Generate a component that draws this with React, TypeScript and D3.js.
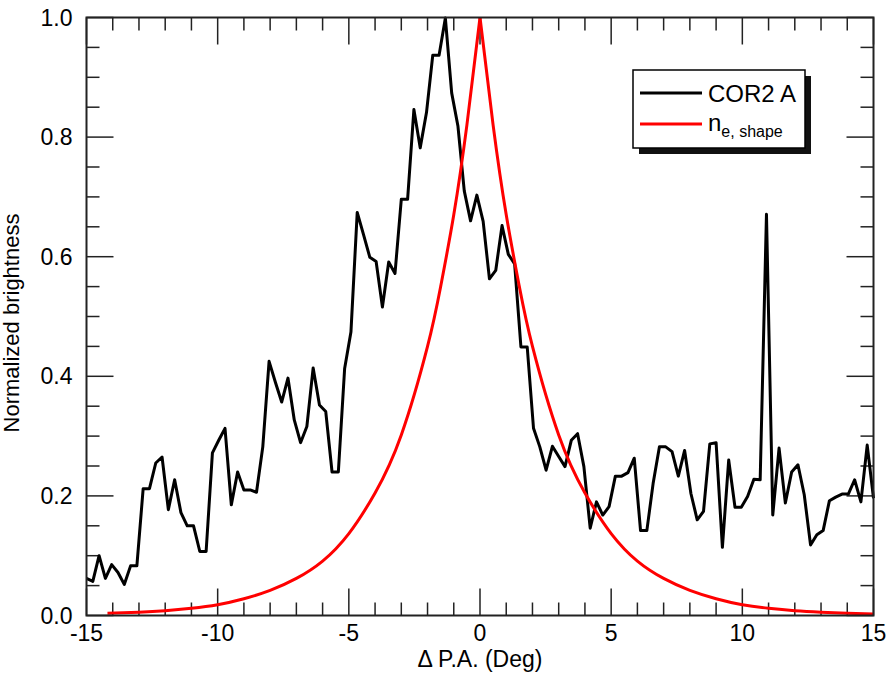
import React, { useEffect, useRef } from "react";
import * as d3 from "d3";

// COR2 A brightness profile, sampled every 0.24 deg from -15 to 15
const paStart = -15;
const paStep = 0.24;
const cor2a = [
  0.062, 0.057, 0.1, 0.062, 0.085, 0.072, 0.052, 0.083, 0.083, 0.212,
  0.212, 0.255, 0.265, 0.177, 0.227, 0.172, 0.15, 0.15, 0.107, 0.107,
  0.272, 0.293, 0.313, 0.185, 0.24, 0.21, 0.21, 0.206, 0.282, 0.425,
  0.39, 0.357, 0.397, 0.327, 0.289, 0.316, 0.414, 0.352, 0.341, 0.24,
  0.24, 0.413, 0.474, 0.674, 0.637, 0.599, 0.592, 0.516, 0.591, 0.572,
  0.696, 0.696, 0.846, 0.782, 0.841, 0.937, 0.937, 0.999, 0.874, 0.818,
  0.71, 0.66, 0.703, 0.659, 0.563, 0.577, 0.652, 0.604, 0.588, 0.449,
  0.449, 0.313, 0.282, 0.243, 0.283, 0.266, 0.249, 0.293, 0.304, 0.249,
  0.146, 0.19, 0.168, 0.182, 0.233, 0.233, 0.239, 0.263, 0.142, 0.142,
  0.221, 0.282, 0.282, 0.274, 0.233, 0.276, 0.204, 0.16, 0.174, 0.287,
  0.289, 0.114, 0.26, 0.181, 0.181, 0.199, 0.228, 0.227, 0.671, 0.168,
  0.28, 0.188, 0.24, 0.252, 0.202, 0.118, 0.135, 0.142, 0.192, 0.198,
  0.203, 0.203, 0.227, 0.19, 0.285, 0.196,
];

// density shape profile (left and right of the peak)
const shapeLeftPA = [-14.2, -13, -12, -11, -10, -9, -8, -7, -6, -5, -4, -3, -2, -1.5, -1, -0.5, 0];
const shapeLeft = [0.0037, 0.0055, 0.008, 0.012, 0.018, 0.028, 0.042, 0.062, 0.091, 0.137, 0.205, 0.302, 0.45, 0.55, 0.67, 0.82, 1];
const shapeRightPA = [0, 0.5, 1, 1.5, 2, 3, 4, 5, 6, 7, 8, 9, 10, 11, 12, 13, 14, 15];
const shapeRight = [1, 0.82, 0.67, 0.55, 0.45, 0.302, 0.205, 0.137, 0.091, 0.062, 0.042, 0.028, 0.018, 0.012, 0.008, 0.0055, 0.0037, 0.0025];

const xMajor = [-15, -10, -5, 0, 5, 10, 15];
const yMajor = [0, 0.2, 0.4, 0.6, 0.8, 1.0];

const FONT = "'Liberation Sans', Arial, Helvetica, sans-serif";

function ProfileChart() {
  const ref = useRef<SVGSVGElement>(null);

  useEffect(() => {
    drawChart();
  }, []);

  function drawChart() {
    const svg = d3.select(ref.current);
    svg.selectAll("*").remove();

    const left = 86.5, right = 873.5, top = 17.5, bottom = 615.5;

    const xScale = d3.scaleLinear().domain([-15, 15]).range([left, right]);
    const yScale = d3.scaleLinear().domain([0, 1]).range([bottom, top]);

    const axisColor = "#222";
    const g = svg.append("g");

    // ticks on all four sides, pointing inward
    const xMinor = d3.range(-15, 16, 1);
    const yMinor = d3.range(0, 1.0001, 0.05);
    const tickLen = (major: boolean) => (major ? 27 : 13);

    xMinor.forEach((v) => {
      const major = v % 5 === 0;
      const x = xScale(v);
      g.append("line").attr("x1", x).attr("x2", x)
        .attr("y1", bottom).attr("y2", bottom - tickLen(major))
        .attr("stroke", axisColor).attr("stroke-width", 1.5);
      g.append("line").attr("x1", x).attr("x2", x)
        .attr("y1", top).attr("y2", top + tickLen(major))
        .attr("stroke", axisColor).attr("stroke-width", 1.5);
    });
    yMinor.forEach((v, i) => {
      const major = i % 4 === 0;
      const y = yScale(v);
      g.append("line").attr("x1", left).attr("x2", left + tickLen(major))
        .attr("y1", y).attr("y2", y)
        .attr("stroke", axisColor).attr("stroke-width", 1.5);
      g.append("line").attr("x1", right).attr("x2", right - tickLen(major))
        .attr("y1", y).attr("y2", y)
        .attr("stroke", axisColor).attr("stroke-width", 1.5);
    });

    // tick labels (plain hyphen for negatives)
    g.selectAll(".xlab")
      .data(xMajor)
      .join("text")
      .attr("x", (d) => xScale(d))
      .attr("y", 641)
      .attr("text-anchor", "middle")
      .attr("font-family", FONT)
      .attr("font-size", 23)
      .text((d) => String(d));
    g.selectAll(".ylab")
      .data(yMajor)
      .join("text")
      .attr("x", left - 14)
      .attr("y", (d) => yScale(d) + 8)
      .attr("text-anchor", "end")
      .attr("font-family", FONT)
      .attr("font-size", 23)
      .text((d) => d.toFixed(1));

    // axis titles
    g.append("text")
      .attr("x", (left + right) / 2)
      .attr("y", 667)
      .attr("text-anchor", "middle")
      .attr("font-family", FONT)
      .attr("font-size", 23)
      .text("\u0394 P.A. (Deg)");
    g.append("text")
      .attr("transform", `translate(19,323) rotate(-90)`)
      .attr("text-anchor", "middle")
      .attr("font-family", FONT)
      .attr("font-size", 22)
      .text("Normalized brightness");

    // data lines
    const obsLine = d3
      .line<number>()
      .x((d, i) => xScale(paStart + i * paStep))
      .y((d) => yScale(d));
    g.append("path")
      .attr("d", obsLine(cor2a))
      .attr("fill", "none")
      .attr("stroke", "black")
      .attr("stroke-width", 3)
      .attr("stroke-linejoin", "round");

    const shapeLine = (pa: number[]) =>
      d3
        .line<number>()
        .x((d, i) => xScale(pa[i]))
        .y((d) => yScale(d))
        .curve(d3.curveNatural);
    [
      [shapeLeftPA, shapeLeft],
      [shapeRightPA, shapeRight],
    ].forEach(([pa, vals]) => {
      g.append("path")
        .attr("d", shapeLine(pa)(vals))
        .attr("fill", "none")
        .attr("stroke", "#f00")
        .attr("stroke-width", 3);
    });

    // frame
    g.append("rect")
      .attr("x", left).attr("y", top)
      .attr("width", right - left).attr("height", bottom - top)
      .attr("fill", "none").attr("stroke", axisColor).attr("stroke-width", 2);

    // legend with drop shadow
    const lg = g.append("g").attr("transform", "translate(633,70)");
    lg.append("rect").attr("x", 6).attr("y", 6).attr("width", 172).attr("height", 78).attr("fill", "#111");
    lg.append("rect").attr("width", 172).attr("height", 78)
      .attr("fill", "white").attr("stroke", "black").attr("stroke-width", 1.5);
    lg.append("line").attr("x1", 7).attr("x2", 69).attr("y1", 23).attr("y2", 23)
      .attr("stroke", "black").attr("stroke-width", 3);
    lg.append("line").attr("x1", 7).attr("x2", 69).attr("y1", 54).attr("y2", 54)
      .attr("stroke", "#f00").attr("stroke-width", 3);
    lg.append("text").attr("x", 75).attr("y", 32)
      .attr("font-family", FONT).attr("font-size", 24).text("COR2 A");
    const lbl = lg.append("text").attr("x", 75).attr("y", 61)
      .attr("font-family", FONT).attr("font-size", 24);
    lbl.append("tspan").text("n");
    lbl.append("tspan").attr("font-size", 16).attr("dy", 6).text("e, shape");
  }

  return (
    <svg
      ref={ref}
      width={894}
      height={678}
      style={{ position: "absolute", left: 0, top: 0, display: "block", background: "white" }}
    ></svg>
  );
}

export default function App() {
  return <ProfileChart />;
}
